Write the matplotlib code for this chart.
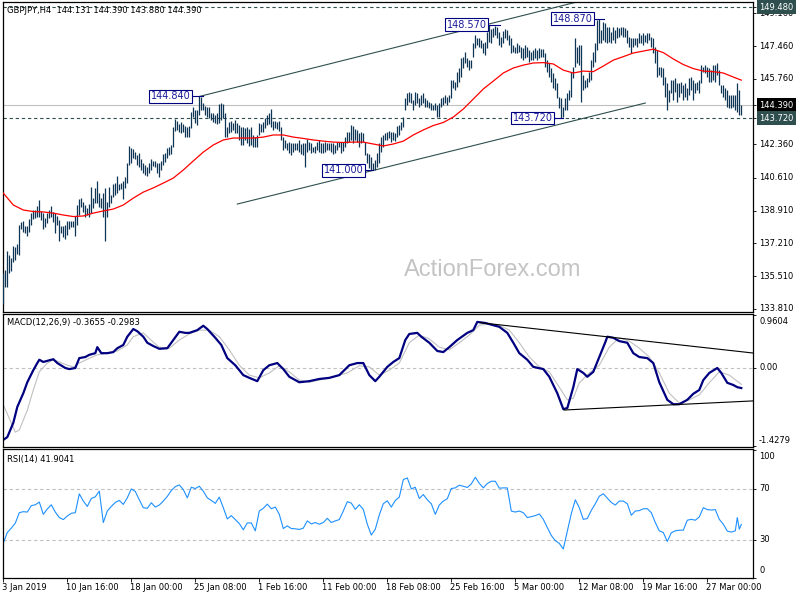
import matplotlib
matplotlib.use("Agg")
import matplotlib.pyplot as plt

# ---------------- data ----------------
highs = [
135.67,135.82,136.81,136.60,136.45,137.07,137.02,137.17,138.16,138.32,
138.37,138.11,138.11,138.47,138.78,138.94,138.94,139.15,139.46,138.89,
138.78,138.52,138.78,138.94,139.15,138.84,138.78,138.63,138.42,138.11,
138.11,138.16,138.37,138.37,138.37,138.37,138.63,139.20,139.51,139.56,
139.36,139.20,139.05,139.25,140.14,139.56,140.09,140.45,139.82,139.56,
139.82,140.09,139.36,140.14,139.72,140.29,140.34,140.71,140.29,140.34,
140.45,140.66,141.38,142.27,142.16,142.11,141.95,141.80,141.90,141.59,
141.38,141.28,141.18,141.38,141.59,141.49,141.49,141.38,141.38,141.49,
141.85,141.90,142.16,142.21,142.32,143.25,143.67,143.56,143.41,143.51,
143.41,143.30,143.25,143.30,144.03,144.29,144.14,144.14,144.84,144.81,
144.50,144.35,144.29,144.29,143.98,143.98,143.88,143.98,144.45,144.50,
144.45,143.98,143.25,143.51,143.56,143.46,143.62,143.46,143.36,143.25,
143.25,143.20,143.25,143.15,143.25,142.84,142.73,142.84,143.46,143.41,
143.51,143.72,143.88,143.98,144.19,143.56,143.56,143.51,143.56,143.25,
142.73,142.58,142.42,142.47,142.42,142.42,142.42,142.42,142.58,142.37,
142.42,142.42,142.63,142.47,142.42,142.21,142.27,142.47,142.58,142.42,
142.42,142.47,142.42,142.42,142.42,142.42,142.32,142.47,142.47,142.47,
142.47,142.73,142.99,142.99,143.36,143.30,143.15,143.10,142.94,142.99,
142.94,142.47,141.90,141.85,141.69,141.38,141.54,141.90,142.42,142.73,
142.84,142.94,142.99,143.05,142.99,142.99,142.94,143.30,143.36,143.51,
143.77,144.76,145.02,145.07,145.02,144.66,145.07,145.02,144.76,144.92,
145.02,144.76,144.66,144.55,144.50,144.40,144.50,144.40,144.50,144.76,
144.81,144.92,144.81,144.92,145.69,145.69,145.59,146.11,146.32,146.84,
146.89,147.15,146.84,146.73,146.73,147.62,148.03,147.88,147.88,147.77,
147.62,147.67,148.19,148.57,148.34,148.40,148.50,148.45,148.19,147.93,
148.24,148.34,148.29,148.03,147.88,147.51,147.41,147.62,147.51,147.41,
147.36,147.51,147.41,147.25,147.15,147.25,147.36,147.25,147.36,147.30,
147.30,147.10,146.73,146.58,146.32,146.06,145.80,145.54,144.81,144.76,
144.29,144.76,145.02,145.17,146.11,146.37,147.88,147.41,147.51,147.51,
145.95,145.69,145.80,146.11,146.73,147.15,147.62,148.81,148.87,148.29,
148.71,148.66,148.45,148.45,148.19,148.45,148.29,148.45,148.40,148.45,
148.45,148.40,148.29,147.93,147.88,147.88,147.88,147.88,148.14,148.03,
148.14,148.03,148.14,148.14,147.93,147.88,147.41,147.25,146.37,146.37,
146.32,145.85,145.54,145.17,145.69,145.69,145.80,145.54,145.54,145.59,
145.43,145.54,145.28,145.80,145.85,145.69,145.54,145.59,145.69,146.47,
146.37,146.47,146.37,146.32,146.21,146.47,146.47,146.58,146.21,145.43,
145.43,145.28,145.17,144.92,144.92,144.92,144.92,145.54,145.17,144.39,
]
lows = [
134.06,134.94,134.94,135.66,135.77,136.24,136.34,136.65,136.60,137.95,
137.80,137.74,137.59,137.80,138.16,138.47,138.52,138.57,138.57,138.42,
137.95,138.06,138.26,138.52,138.57,138.32,137.74,138.16,137.33,137.74,
137.54,137.43,137.64,137.95,138.06,138.06,137.59,138.16,138.68,139.10,
138.84,138.57,138.68,138.57,138.78,139.05,139.30,139.30,139.10,139.05,
138.57,137.33,138.57,139.10,139.30,139.62,139.72,139.82,139.98,140.03,
139.51,140.09,140.34,141.28,141.38,141.64,141.59,141.28,141.18,141.02,
140.86,140.76,140.71,140.86,141.02,141.23,141.18,140.86,140.66,141.02,
141.28,141.43,141.64,141.80,141.85,142.21,143.05,143.10,142.99,142.94,
142.99,142.73,142.73,142.73,143.20,143.77,143.46,143.36,143.88,144.14,
144.14,143.88,143.77,143.72,143.62,143.51,143.46,143.41,143.46,143.62,
143.72,142.73,142.73,142.94,142.99,143.10,142.94,142.94,142.58,142.32,
142.32,142.58,142.42,142.27,142.32,142.21,142.21,142.21,142.84,142.99,
142.99,143.20,143.36,143.41,143.25,143.10,143.20,143.15,143.05,142.58,
142.06,142.16,142.06,141.90,141.80,141.95,142.06,142.06,141.95,141.85,
141.80,141.18,141.95,142.06,141.90,141.95,141.90,142.06,141.95,141.90,
141.90,141.95,142.06,142.06,141.95,141.85,141.90,142.06,142.21,141.90,
142.01,142.21,142.42,142.47,142.58,142.42,142.58,142.47,142.21,142.42,
142.47,141.80,141.38,141.12,141.02,141.00,141.02,141.18,141.38,141.95,
142.21,142.58,142.58,142.68,142.47,142.58,142.52,142.73,142.84,143.10,
143.25,144.14,144.40,144.55,144.50,144.14,144.40,144.50,144.29,144.40,
144.50,144.29,144.29,144.24,144.14,144.14,144.14,143.77,143.77,144.29,
144.40,144.50,144.40,144.55,144.76,145.28,145.17,145.33,145.59,145.85,
146.32,146.58,146.37,146.21,146.32,146.89,147.36,147.51,147.41,147.36,
147.10,146.99,147.36,147.67,147.62,147.93,148.03,147.88,147.51,147.41,
147.62,147.88,147.77,147.51,147.10,147.15,147.10,147.10,147.15,146.84,
146.73,146.84,146.89,146.63,146.73,146.73,146.84,146.73,146.84,146.89,
146.89,146.37,146.11,145.85,145.59,145.28,145.17,144.76,144.24,143.72,
143.77,144.14,144.14,144.66,144.81,145.80,146.37,146.58,146.47,144.55,
145.17,145.28,145.33,145.59,145.69,146.37,146.63,147.25,147.62,147.62,
147.77,147.67,147.62,147.67,147.62,147.77,147.62,147.88,147.93,148.03,
147.93,147.93,147.62,147.41,147.10,147.41,147.51,147.41,147.62,147.62,
147.51,147.67,147.62,147.77,147.41,147.10,146.58,145.85,145.95,145.85,
145.43,144.81,144.14,144.55,145.02,144.66,145.07,144.55,144.81,145.02,
144.66,144.81,144.66,144.92,145.17,144.66,145.02,145.17,145.02,145.54,
146.11,146.06,145.85,145.59,145.59,145.69,145.59,145.95,145.43,145.02,
144.81,144.66,144.29,144.24,144.24,144.29,144.14,144.03,143.88,143.88,
]
bars = list(range(len(highs)))

ma_bar = list(range(0, 370, 5)) + [369]
ma_val = [
139.82,139.20,138.94,138.86,138.84,138.78,138.68,138.60,138.63,138.78,
138.89,138.99,139.20,139.56,139.87,140.09,140.34,140.60,141.02,141.49,
141.95,142.32,142.58,142.68,142.68,142.68,142.73,142.84,142.84,142.73,
142.66,142.58,142.52,142.47,142.45,142.47,142.47,142.37,142.27,142.37,
142.52,142.84,143.10,143.33,143.49,143.77,144.19,144.71,145.23,145.64,
146.06,146.32,146.47,146.58,146.60,146.53,146.21,146.06,146.16,146.13,
146.42,146.73,146.91,147.10,147.20,147.30,147.12,146.79,146.50,146.29,
146.16,146.13,146.06,145.85,145.69]

macd_bar = [0,2,5,7,10,12,15,17,18,20,22,25,27,31,33,36,38,41,43,46,47,49,52,55,57,
            60,62,65,67,70,72,75,78,82,85,88,91,93,97,100,102,106,109,112,116,120,123,
            127,130,133,137,140,143,148,153,158,163,168,173,177,180,183,186,188,192,195,
            198,201,203,207,209,213,217,220,223,227,232,235,237,241,245,248,252,255,258,
            262,265,270,273,277,280,282,285,287,290,292,295,298,301,302,305,308,312,315,
            318,322,325,328,332,335,338,342,345,348,350,353,357,359,362,365,367,369]
macd_val = [-1.31,-1.26,-1.00,-0.71,-0.46,-0.26,-0.04,0.09,0.15,0.11,0.13,0.16,0.09,0.00,
            -0.02,0.00,0.18,0.20,0.24,0.27,0.38,0.27,0.27,0.29,0.36,0.42,0.57,0.71,0.67,
            0.57,0.46,0.40,0.35,0.36,0.51,0.66,0.64,0.64,0.69,0.77,0.71,0.55,0.42,0.18,
            0.05,-0.13,-0.18,-0.24,-0.04,0.05,0.09,-0.02,-0.16,-0.26,-0.24,-0.20,-0.18,
            -0.13,0.05,0.09,0.09,-0.13,-0.24,-0.16,0.02,0.11,0.18,0.51,0.62,0.64,0.57,
            0.46,0.31,0.29,0.38,0.51,0.64,0.69,0.84,0.82,0.78,0.75,0.64,0.46,0.27,0.15,
            0.02,-0.02,-0.16,-0.46,-0.75,-0.73,-0.35,-0.02,-0.09,-0.16,-0.07,0.20,0.47,
            0.57,0.55,0.49,0.46,0.27,0.20,0.18,0.09,-0.26,-0.58,-0.66,-0.66,-0.58,-0.47,
            -0.40,-0.22,-0.09,0.00,-0.09,-0.27,-0.31,-0.35,-0.3655]
sig_bar = [0,6,8,12,15,18,22,25,28,32,35,38,42,47,52,57,62,65,70,75,78,83,88,93,98,103,
           108,113,118,123,128,133,138,143,148,153,163,172,178,183,188,193,198,203,208,
           213,218,223,228,233,238,243,248,253,258,263,268,273,278,282,285,288,293,298,
           303,308,313,318,323,328,333,338,343,348,353,358,363,369]
sig_val = [-0.67,-1.17,-1.13,-0.77,-0.40,-0.07,0.09,0.15,0.11,0.05,0.02,0.09,0.16,0.24,
           0.27,0.31,0.42,0.57,0.64,0.47,0.38,0.36,0.51,0.62,0.69,0.69,0.57,0.33,0.05,
           -0.13,-0.18,-0.09,0.04,-0.07,-0.22,-0.26,-0.18,-0.09,0.04,0.02,-0.13,-0.04,
           0.09,0.46,0.60,0.53,0.38,0.33,0.46,0.60,0.78,0.80,0.78,0.69,0.46,0.20,0.02,
           -0.07,-0.35,-0.58,-0.55,-0.27,-0.09,0.05,0.38,0.55,0.49,0.36,0.20,-0.09,-0.46,
           -0.64,-0.58,-0.49,-0.27,-0.07,-0.13,-0.2983]

rsi_bar = list(range(0, 366, 2)) + [366, 367, 368, 369]
rsi_val = [
27.3,35.6,39.0,42.9,51.1,51.9,51.6,56.6,57.3,59.4,
49.8,54.0,57.3,51.6,47.3,45.7,48.5,50.6,51.1,65.8,
60.2,56.0,62.2,63.5,68.0,43.4,52.4,56.0,59.1,60.7,
57.6,62.7,69.7,67.7,61.2,55.0,54.5,58.9,55.5,57.1,
60.2,63.8,68.4,71.5,72.8,69.2,62.7,71.0,70.0,71.8,
67.9,62.7,60.7,58.4,63.3,55.0,46.2,48.8,45.7,42.6,
37.7,43.1,43.1,36.9,52.4,54.5,57.8,54.2,55.5,49.8,
38.7,40.8,38.7,38.5,38.0,39.0,44.7,42.3,43.4,42.1,
43.4,46.7,43.4,44.7,45.7,52.4,59.7,58.6,53.7,57.3,
53.7,42.1,33.6,38.2,49.3,58.1,60.4,55.5,60.7,63.3,
77.0,78.3,69.7,71.0,62.2,65.3,61.2,58.1,49.8,57.1,
60.2,62.0,70.0,70.5,72.6,71.8,70.8,73.6,78.8,74.1,
70.5,73.9,75.7,75.7,70.3,70.5,70.5,52.4,51.6,52.4,
51.1,47.3,48.0,48.8,50.1,45.9,39.5,33.3,29.2,27.1,
22.7,36.4,50.4,61.2,55.0,45.9,46.5,52.9,58.1,64.0,
65.9,62.5,59.1,57.1,60.2,60.2,58.1,49.1,52.4,52.7,
54.2,54.2,51.1,43.4,36.9,35.6,28.6,35.4,36.9,37.4,
37.4,45.2,45.9,45.2,47.8,55.0,53.5,53.2,53.5,45.9,
42.1,36.7,35.9,
36.9,47.3,38.2,41.9041]

# drawn objects
chan_up_bar, chan_up_val = [98, 286], [144.84, 149.73]
chan_dn_bar, chan_dn_val = [117, 321], [139.25, 144.50]
macd_tl_up_bar, macd_tl_up_val = [238.4, 374.85], [0.826, 0.273]
macd_tl_dn_bar, macd_tl_dn_val = [280.4, 374.85], [-0.766, -0.600]

swing_text = ["144.840", "141.000", "148.570", "143.720", "148.870"]
swing_level = [144.84, 141.00, 148.57, 143.72, 148.87]
swing_box_bar = [93.6, 180.1, 241.6, 274.6, 294.6]
swing_line = [(94.4, 100.0), (180.9, 185.0), (242.4, 248.4), (275.4, 280.0), (295.4, 300.4)]

price_ticks = [149.16, 147.46, 145.76, 142.36, 140.61, 138.91, 137.21, 135.51, 133.81]
time_bars = [0, 32, 64, 96, 128, 160, 192, 224, 256, 288, 320, 352]
time_labels = ["3 Jan 2019", "10 Jan 16:00", "18 Jan 00:00", "25 Jan 08:00", "1 Feb 16:00",
               "11 Feb 00:00", "18 Feb 08:00", "25 Feb 16:00", "5 Mar 00:00", "12 Mar 08:00",
               "19 Mar 16:00", "27 Mar 00:00"]

# ---------------- drawing ----------------
FONT = "DejaVu Sans"
FS = 6
BAR = "#0e3554"
DSG = "#2f4f4f"

fig = plt.figure(figsize=(8, 6), dpi=100)
fig.patch.set_facecolor("white")

def rect(l, t, r, b):
    return [l / 800, 1 - b / 600, (r - l) / 800, (b - t) / 600]

ax1 = fig.add_axes(rect(3, 2, 753, 312))
ax2 = fig.add_axes(rect(3, 314, 753, 447))
ax3 = fig.add_axes(rect(3, 449, 753, 578))

for ax in (ax1, ax2, ax3):
    ax.set_xlim(-0.15, 374.85)
    for s in ax.spines.values():
        s.set_linewidth(0.9)
        s.set_color("black")
    ax.tick_params(axis="x", bottom=False, labelbottom=False)
    ax.tick_params(axis="y", left=False, labelleft=False, right=True, labelright=False,
                   direction="out", length=2.5, width=0.6)

def rtext(ax, y, s, va="center", dy=0, **kw):
    ax.annotate(s, xy=(1, y), xycoords=("axes fraction", "data"), xytext=(6, dy),
                textcoords="offset pixels", ha="left", va=va, fontsize=FS, family=FONT,
                annotation_clip=False, **kw)

# ---- main price panel ----
ax1.set_ylim(133.64, 149.75)
ax1.axhline(149.48, color=DSG, lw=0.8, ls=(0, (3, 2.5)))
ax1.axhline(143.72, color=DSG, lw=0.8, ls=(0, (3, 2.5)))
ax1.axhline(144.39, color="#c0c0c0", lw=0.8)
ax1.vlines(bars, lows, highs, color=BAR, lw=0.9, zorder=3)
ax1.plot(ma_bar, ma_val, color="#ff0000", lw=0.9, zorder=4)
ax1.plot(chan_up_bar, chan_up_val, color=DSG, lw=0.8, zorder=2)
ax1.plot(chan_dn_bar, chan_dn_val, color=DSG, lw=0.8, zorder=2)

for txt, lev, bx, (c0, c1) in zip(swing_text, swing_level, swing_box_bar, swing_line):
    ax1.plot([c0, c1], [lev, lev], color="#000080", lw=0.8, zorder=5)
    ax1.text(bx, lev, txt, ha="right", va="center", fontsize=7, family=FONT, color="#1c1c9c",
             zorder=6, bbox=dict(boxstyle="square,pad=0.15", fc="white", ec="#000080", lw=0.8))

ax1.set_yticks(price_ticks + [149.48, 144.39, 143.72])
for v in price_ticks:
    rtext(ax1, v, f"{v:.3f}")
rtext(ax1, 149.48, "149.480", color="white",
      bbox=dict(boxstyle="square,pad=0.3", fc=DSG, ec="none"))
rtext(ax1, 144.39, "144.390", color="white",
      bbox=dict(boxstyle="square,pad=0.3", fc="black", ec="none"))
rtext(ax1, 143.72, "143.720", color="white",
      bbox=dict(boxstyle="square,pad=0.3", fc=DSG, ec="none"))

ax1.annotate("GBPJPY,H4  144.131 144.390 143.880 144.390", xy=(0, 1), xycoords="axes fraction",
             xytext=(4, -8.5), textcoords="offset pixels", ha="left", va="center",
             fontsize=FS, family=FONT, color="black")
fig.text(493 / 800, 1 - 270 / 600, "ActionForex.com", ha="center", va="center",
         fontsize=17, family="Liberation Sans", color="#c4c4c4", zorder=0)

# ---- MACD panel ----
ax2.set_ylim(-1.440, 0.984)
ax2.axhline(0, color="#c0c0c0", lw=0.8, ls=(0, (3, 2.5)))
ax2.plot(sig_bar, sig_val, color="#c0c0c0", lw=0.8)
ax2.plot(macd_bar, macd_val, color="#000080", lw=1.6)
ax2.plot(macd_tl_up_bar, macd_tl_up_val, color="black", lw=0.8)
ax2.plot(macd_tl_dn_bar, macd_tl_dn_val, color="black", lw=0.8)
ax2.set_yticks([0.9604, 0.0, -1.4279])
rtext(ax2, 0.9604, "0.9604", va="top", dy=-2)
rtext(ax2, 0.0, "0.00")
rtext(ax2, -1.4279, "-1.4279", va="bottom", dy=1)
ax2.annotate("MACD(12,26,9) -0.3655 -0.2983", xy=(0, 1), xycoords="axes fraction",
             xytext=(4, -9), textcoords="offset pixels", ha="left", va="center",
             fontsize=FS, family=FONT)

# ---- RSI panel ----
ax3.set_ylim(0.93, 100.93)
ax3.axhline(70, color="#c0c0c0", lw=0.8, ls=(0, (3, 2.5)))
ax3.axhline(30, color="#c0c0c0", lw=0.8, ls=(0, (3, 2.5)))
ax3.plot(rsi_bar, rsi_val, color="#1e90ff", lw=0.8)
ax3.set_yticks([100, 70, 30, 0])
rtext(ax3, 100, "100", va="top", dy=-2)
rtext(ax3, 70, "70")
rtext(ax3, 30, "30")
rtext(ax3, 0, "0", va="bottom", dy=3)
ax3.annotate("RSI(14) 41.9041", xy=(0, 1), xycoords="axes fraction",
             xytext=(4, -10), textcoords="offset pixels", ha="left", va="center",
             fontsize=FS, family=FONT)

ax3.set_xticks(time_bars)
ax3.tick_params(axis="x", bottom=True, direction="out", length=3, width=0.6, labelbottom=False)
for b, lab in zip(time_bars, time_labels):
    ax3.annotate(lab, xy=(b, 0), xycoords=("data", "axes fraction"), xytext=(-1, -5),
                 textcoords="offset pixels", ha="left", va="top", fontsize=FS, family=FONT,
                 annotation_clip=False)

fig.savefig("out.png", dpi=100, facecolor="white")
